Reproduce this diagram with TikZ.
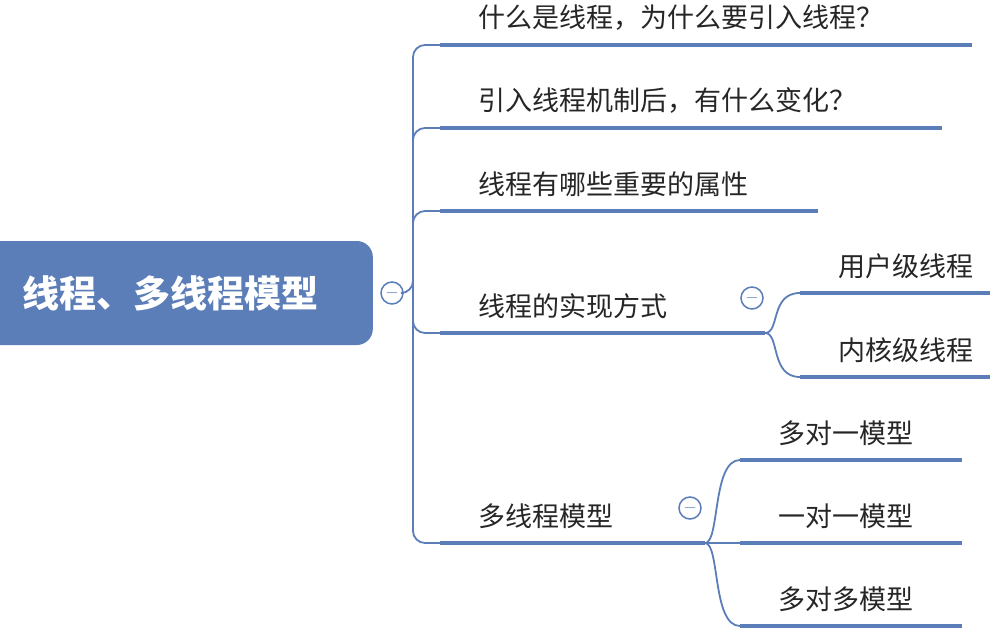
\documentclass[tikz,border=0pt]{standalone}
\usepackage{fontspec}
\newfontfamily\cjk{Noto Sans CJK SC}
\definecolor{mapblue}{HTML}{5B7DB8}
\begin{document}
\begin{tikzpicture}[x=1pt, y=-1pt,
                    every node/.style={font=\cjk\fontsize{27}{30}\selectfont, inner sep=0pt},
                    topic/.style={anchor=south west, text=black!85},
                    uline/.style={line width=4pt, mapblue},
                    link/.style={line width=1.8pt, mapblue, rounded corners=12pt},
                    fold/.style={circle, draw=mapblue, line width=1.5pt, fill=white, minimum size=22pt,
                                 font=\fontsize{16}{16}\selectfont, text=mapblue}]
  \useasboundingbox (0,0) rectangle (996,634);
  % root
  \node[fill=mapblue, rounded corners=16pt, minimum width=392pt, minimum height=104pt,
        anchor=east, text=white, align=left, text width=372pt,
        font=\cjk\bfseries\fontsize{37}{40}\selectfont] (root) at (373,293) {\hspace*{32pt}线程、多线程模型};
  \node[fold] (rootfold) at (392,293) {$-$};
  % main branches
  \coordinate (t1) at (440,45);   \coordinate (e1) at (972,45);
  \coordinate (t2) at (440,128);  \coordinate (e2) at (942,128);
  \coordinate (t3) at (440,211);  \coordinate (e3) at (818,211);
  \coordinate (t4) at (440,333);  \coordinate (e4) at (765,333);
  \coordinate (t5) at (440,543);  \coordinate (e5) at (705,543);
  \foreach \i/\txt in {1/什么是线程，为什么要引入线程？, 2/引入线程机制后，有什么变化？,
                       3/线程有哪些重要的属性, 4/线程的实现方式, 5/多线程模型} {
    \draw[uline] (t\i) -- (e\i);
    \node[topic] (n\i) at ([xshift=38pt, yshift=14pt]t\i) {\txt};
  }
  \draw[link] (rootfold.east) -- (413,293) -- (413,45) -- (t1);
  \draw[link] (413,293) -- (413,128) -- (t2);
  \draw[link] (413,293) -- (413,211) -- (t3);
  \draw[link] (413,293) -- (413,333) -- (t4);
  \draw[link] (413,293) -- (413,543) -- (t5);
  % implementation
  \coordinate (u1) at (800,293); \coordinate (v1) at (990,293);
  \coordinate (u2) at (800,377); \coordinate (v2) at (990,377);
  \draw[uline] (u1) -- (v1); \draw[uline] (u2) -- (v2);
  \node[topic] (user) at ([xshift=38pt, yshift=14pt]u1) {用户级线程};
  \node[topic] (kernel) at ([xshift=38pt, yshift=14pt]u2) {内核级线程};
  \draw[line width=1.8pt, mapblue] (e4) .. controls (780,333) and (770,293) .. (u1);
  \draw[line width=1.8pt, mapblue] (e4) .. controls (780,333) and (770,377) .. (u2);
  \node[fold] (fold4) at (752,298) {$-$};
  % models
  \coordinate (m1) at (740,460); \coordinate (w1) at (962,460);
  \coordinate (m2) at (740,543); \coordinate (w2) at (962,543);
  \coordinate (m3) at (740,626); \coordinate (w3) at (962,626);
  \foreach \i/\txt in {1/多对一模型, 2/一对一模型, 3/多对多模型} {
    \draw[uline] (m\i) -- (w\i);
    \node[topic] (model\i) at ([xshift=38pt, yshift=14pt]m\i) {\txt};
  }
  \draw[line width=1.8pt, mapblue] (e5) -- (m2);
  \draw[line width=1.8pt, mapblue] (e5) .. controls (720,543) and (712,460) .. (m1);
  \draw[line width=1.8pt, mapblue] (e5) .. controls (720,543) and (712,626) .. (m3);
  \node[fold] (fold5) at (690,508) {$-$};
\end{tikzpicture}
\end{document}
